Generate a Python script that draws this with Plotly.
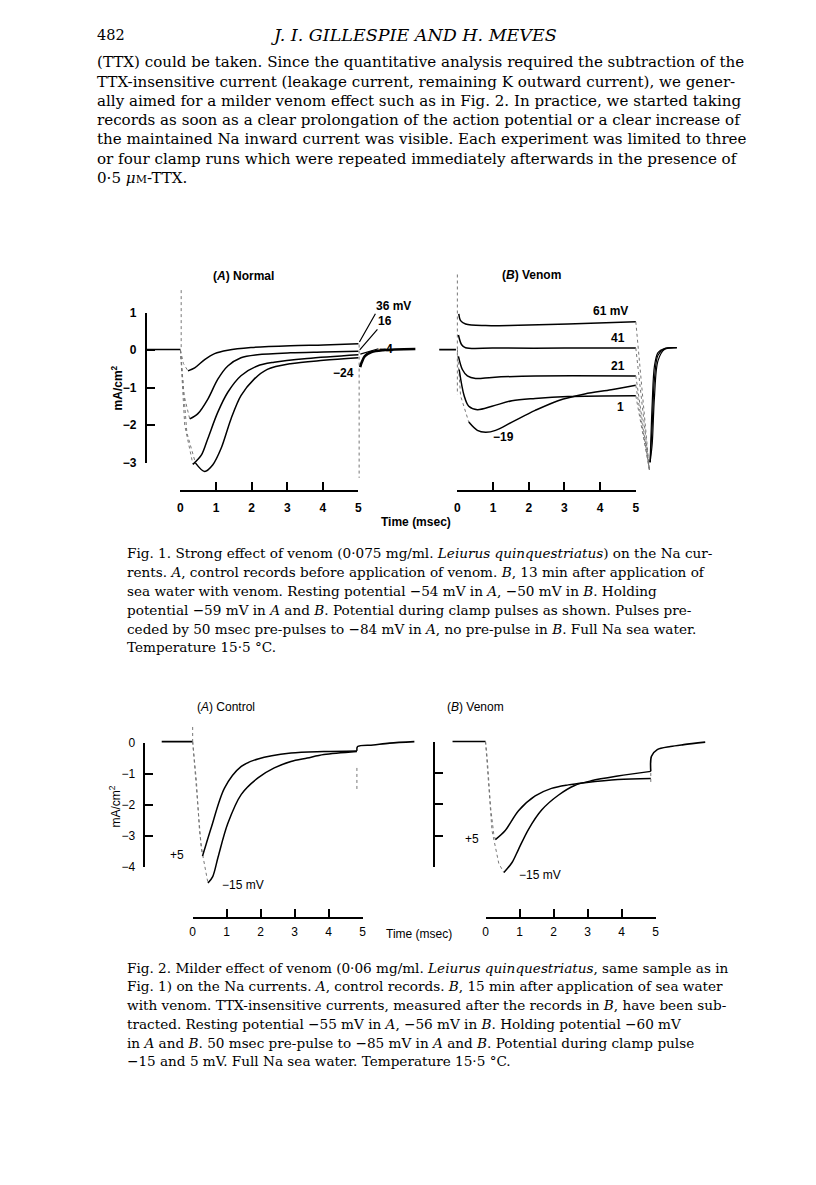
import plotly.graph_objects as go

W, H = 816, 1185
SANS = "Liberation Sans"
SERIF = "DejaVu Serif"

# ================= DATA (time in msec, current in mA/cm2) =================
# ---- Fig. 1A  Normal ----
f1a_pre_t = [-0.95, 0.0];            f1a_pre_i = [0.02, 0.02]
f1a_spike_t = [0.02, 0.02];          f1a_spike_i = [1.6, 0.0]
f1a_36_t = [0.21, 0.40, 0.68, 0.96, 1.33, 1.98, 3.09, 4.02, 5.0]
f1a_36_i = [-0.55, -0.47, -0.25, -0.09, 0.0, 0.07, 0.12, 0.14, 0.17]
f1a_16_t = [0.26, 0.49, 0.77, 1.05, 1.33, 1.70, 2.16, 3.09, 4.02, 5.0]
f1a_16_i = [-1.83, -1.69, -1.30, -0.77, -0.42, -0.20, -0.12, -0.07, -0.05, -0.03]
f1a_m4_t = [0.35, 0.59, 0.77, 1.05, 1.33, 1.70, 2.16, 2.63, 3.56, 5.0]
f1a_m4_i = [-3.04, -2.79, -2.35, -1.65, -1.12, -0.68, -0.42, -0.32, -0.22, -0.12]
f1a_m24_t = [0.42, 0.68, 0.91, 1.14, 1.42, 1.70, 2.07, 2.44, 3.09, 4.02, 5.0]
f1a_m24_i = [-3.0, -3.23, -3.05, -2.62, -1.83, -1.21, -0.77, -0.51, -0.36, -0.27, -0.2]
f1a_fall_36_t = [0.0, 0.08, 0.21];   f1a_fall_36_i = [0.0, -0.35, -0.55]
f1a_fall_16_t = [0.0, 0.10, 0.26];   f1a_fall_16_i = [0.0, -1.2, -1.83]
f1a_fall_m4_t = [0.0, 0.12, 0.35];   f1a_fall_m4_i = [0.0, -2.0, -3.04]
f1a_fall_m24_t = [0.0, 0.18, 0.42];  f1a_fall_m24_i = [0.0, -2.2, -3.0]
f1a_off_t = [5.02, 5.02];            f1a_off_i = [0.15, -3.4]
f1a_tail_t = [5.05, 5.09, 5.18, 5.37, 5.69, 6.6]
f1a_tail_i = [-0.45, -0.33, -0.16, -0.05, 0.0, 0.03]
f1a_labels = ["36 mV", "16", "−4", "−24"]

# ---- Fig. 1B  Venom ----
f1b_pre_t = [-0.69, -0.04];          f1b_pre_i = [0.0, 0.0]
f1b_spike_t = [0.0, 0.0];            f1b_spike_i = [2.0, -1.2]
f1b_61_t = [0.04, 0.09, 0.23, 0.79, 1.71, 3.1, 5.0]
f1b_61_i = [0.95, 0.77, 0.68, 0.64, 0.65, 0.68, 0.74]
f1b_41_t = [0.03, 0.12, 0.23, 1.0, 3.0, 5.0]
f1b_41_i = [0.39, 0.13, 0.05, 0.04, 0.04, 0.04]
f1b_21_t = [0.03, 0.14, 0.28, 0.51, 0.97, 2.18, 5.0]
f1b_21_i = [-0.18, -0.53, -0.70, -0.77, -0.74, -0.70, -0.70]
f1b_1_t = [0.05, 0.19, 0.32, 0.56, 0.97, 1.53, 2.18, 3.1, 5.0]
f1b_1_i = [-0.53, -1.23, -1.51, -1.60, -1.51, -1.36, -1.30, -1.25, -1.23]
f1b_m19_t = [0.32, 0.56, 0.79, 1.07, 1.53, 2.18, 2.82, 3.57, 4.31, 5.0]
f1b_m19_i = [-1.93, -2.15, -2.20, -2.15, -1.93, -1.62, -1.36, -1.18, -1.07, -0.95]
f1b_fall_m19_t = [0.0, 0.09, 0.32];  f1b_fall_m19_i = [0.0, -1.23, -1.93]
f1b_drop_t = [5.0, 5.38]
f1b_drop_end_i = [0.74, 0.04, -0.70, -1.23, -0.95]
f1b_drop_low_i = -3.2
f1b_tail_t = [5.40, 5.46, 5.52, 5.62, 5.80, 6.15]
f1b_tail_a_i = [-3.0, -1.4, -0.45, -0.08, 0.03, 0.05]
f1b_tail_b_i = [-3.0, -2.0, -0.8, -0.15, 0.02, 0.05]
f1b_tail_c_i = [-3.0, -2.5, -1.3, -0.3, 0.0, 0.05]
f1b_labels = ["61 mV", "41", "21", "1", "−19"]

# ---- Fig. 2A  Control ----
f2a_pre_t = [-0.91, 0.0];            f2a_pre_i = [0.03, 0.03]
f2a_spike_t = [0.0, 0.0];            f2a_spike_i = [0.5, 0.03]
f2a_p5_t = [0.29, 0.40, 0.55, 0.94, 1.43, 1.92, 2.89, 3.86, 4.83]
f2a_p5_i = [-3.66, -3.26, -2.73, -1.46, -0.77, -0.53, -0.34, -0.29, -0.27]
f2a_m15_t = [0.45, 0.59, 0.75, 1.03, 1.43, 1.92, 2.40, 2.89, 3.37, 3.86, 4.83]
f2a_m15_i = [-4.53, -4.32, -3.68, -2.62, -1.67, -1.14, -0.82, -0.61, -0.50, -0.39, -0.29]
f2a_fall_p5_t = [0.0, 0.11, 0.20, 0.29];   f2a_fall_p5_i = [0.03, -1.24, -2.83, -3.66]
f2a_fall_m15_t = [0.0, 0.12, 0.25, 0.45];  f2a_fall_m15_i = [0.03, -1.5, -3.36, -4.53]
f2a_post_t = [4.83, 4.85, 5.31, 5.79, 6.52]
f2a_post_i = [-0.27, -0.13, -0.08, -0.02, 0.03]
f2a_off_t = [4.83, 4.83];            f2a_off_i = [-0.82, -1.5]
f2a_labels = ["+5", "−15 mV"]

# ---- Fig. 2B  Venom ----
f2b_pre_t = [-0.97, 0.0];            f2b_pre_i = [0.0, 0.0]
f2b_p5_t = [0.29, 0.58, 0.97, 1.46, 1.94, 2.43, 2.92, 3.89, 4.86]
f2b_p5_i = [-3.12, -2.83, -2.20, -1.73, -1.49, -1.38, -1.31, -1.21, -1.18]
f2b_m15_t = [0.54, 0.78, 0.97, 1.26, 1.65, 2.14, 2.62, 3.11, 3.89, 4.86]
f2b_m15_i = [-4.17, -3.85, -3.43, -2.80, -2.18, -1.71, -1.40, -1.25, -1.10, -0.95]
f2b_fall_p5_t = [0.0, 0.05, 0.15, 0.24, 0.29];  f2b_fall_p5_i = [0.0, -0.53, -2.1, -2.93, -3.12]
f2b_fall_m15_t = [0.0, 0.19, 0.39, 0.54];       f2b_fall_m15_i = [0.0, -2.83, -3.88, -4.17]
f2b_post_t = [4.86, 4.88, 5.05, 5.44, 5.83, 6.46]
f2b_post_i = [-0.95, -0.47, -0.26, -0.16, -0.10, -0.02]
f2b_off_t = [4.86, 4.86];            f2b_off_i = [-1.0, -1.36]
f2b_labels = ["+5", "−15 mV"]

# ---- axes / scale bars ----
time_ticks = [0, 1, 2, 3, 4, 5]
f1_current_ticks = [1, 0, -1, -2, -3]
f2_current_ticks = [0, -1, -2, -3, -4]

# ---- page text ----
page_number = "482"
running_head = "<i>J. I. GILLESPIE AND H. MEVES</i>"
body_lines = [
    "(TTX) could be taken. Since the quantitative analysis required the subtraction of the",
    "TTX-insensitive current (leakage current, remaining K outward current), we gener-",
    "ally aimed for a milder venom effect such as in Fig. 2. In practice, we started taking",
    "records as soon as a clear prolongation of the action potential or a clear increase of",
    "the maintained Na inward current was visible. Each experiment was limited to three",
    "or four clamp runs which were repeated immediately afterwards in the presence of",
    "0·5 <i>μ</i><span style='font-size:11px'>M</span>-TTX.",
]
cap1_lines = [
    "Fig. 1. Strong effect of venom (0·075 mg/ml. <i>Leiurus quinquestriatus</i>) on the Na cur-",
    "rents. <i>A</i>, control records before application of venom. <i>B</i>, 13 min after application of",
    "sea water with venom. Resting potential −54 mV in <i>A</i>, −50 mV in <i>B</i>. Holding",
    "potential −59 mV in <i>A</i> and <i>B</i>. Potential during clamp pulses as shown. Pulses pre-",
    "ceded by 50 msec pre-pulses to −84 mV in <i>A</i>, no pre-pulse in <i>B</i>. Full Na sea water.",
    "Temperature 15·5 °C.",
]
cap2_lines = [
    "Fig. 2. Milder effect of venom (0·06 mg/ml. <i>Leiurus quinquestriatus</i>, same sample as in",
    "Fig. 1) on the Na currents. <i>A</i>, control records. <i>B</i>, 15 min after application of sea water",
    "with venom. TTX-insensitive currents, measured after the records in <i>B</i>, have been sub-",
    "tracted. Resting potential −55 mV in <i>A</i>, −56 mV in <i>B</i>. Holding potential −60 mV",
    "in <i>A</i> and <i>B</i>. 50 msec pre-pulse to −85 mV in <i>A</i> and <i>B</i>. Potential during clamp pulse",
    "−15 and 5 mV. Full Na sea water. Temperature 15·5 °C.",
]

# ================= LAYOUT GEOMETRY (pixels) =================
# x0/sx: pixel of t=0 and px per msec; y0/sy: pixel of I=0 and px per mA/cm2
P1A = dict(n=1, x0=179.0, sx=35.9, y0=347.3, sy=38.0, box=(100, 440, 255, 500))
P1B = dict(n=2, x0=458.3, sx=36.0, y0=346.7, sy=38.0, box=(440, 730, 255, 500))
P2A = dict(n=3, x0=191.3, sx=34.3, y0=744.3, sy=31.4, box=(100, 440, 700, 900))
P2B = dict(n=4, x0=486.7, sx=34.3, y0=743.3, sy=31.8, box=(440, 740, 700, 900))


def xn(n):
    return "x" if n == 1 else f"x{n}"


def yn(n):
    return "y" if n == 1 else f"y{n}"


def xk(n):
    return "xaxis" if n == 1 else f"xaxis{n}"


def yk(n):
    return "yaxis" if n == 1 else f"yaxis{n}"


def PX(x):
    return x / W


def PY(y):
    return 1 - y / H


fig = go.Figure()
layout = {}


def main_axes(p):
    n = p["n"]
    bx0, bx1, by0, by1 = p["box"]
    layout[xk(n)] = dict(domain=[PX(bx0), PX(bx1)],
                         range=[(bx0 - p["x0"]) / p["sx"], (bx1 - p["x0"]) / p["sx"]],
                         visible=False, anchor=yn(n), fixedrange=True)
    layout[yk(n)] = dict(domain=[PY(by1), PY(by0)],
                         range=[(p["y0"] - by1) / p["sy"], (p["y0"] - by0) / p["sy"]],
                         visible=False, anchor=xn(n), fixedrange=True)


def scale_axes(p, m, bar_y, yax_x, yticks, show_y, show_ylab, bold, xstand, ystand):
    tf = dict(family=SANS, size=12, color="black", weight="bold" if bold else "normal")
    common = dict(showline=True, linewidth=2, linecolor="black", ticks="inside",
                  ticklen=8, tickwidth=2, tickcolor="black", showgrid=False,
                  zeroline=False, tickfont=tf, fixedrange=True)
    layout[xk(m)] = dict(domain=[PX(p["x0"]), PX(p["x0"] + 5 * p["sx"])], range=[0, 5],
                         anchor="free", position=PY(bar_y), side="bottom",
                         tickmode="array", tickvals=time_ticks, ticklabelstandoff=xstand,
                         **common)
    lo, hi = min(yticks), max(yticks)
    layout[yk(m)] = dict(domain=[PY(p["y0"] - lo * p["sy"]), PY(p["y0"] - hi * p["sy"])],
                         range=[lo, hi], anchor="free", position=PX(yax_x), side="left",
                         tickmode="array", tickvals=yticks, showticklabels=show_ylab,
                         visible=show_y, ticklabelstandoff=ystand, **common)
    fig.add_trace(go.Scatter(x=[0], y=[0], mode="lines", xaxis=xn(m), yaxis=yn(m),
                             hoverinfo="skip", showlegend=False))


def line(p, t, i, width=1.5, dash=None, color="black", shape="spline"):
    n = p["n"]
    fig.add_trace(go.Scatter(x=t, y=i, mode="lines", xaxis=xn(n), yaxis=yn(n),
                             line=dict(color=color, width=width, dash=dash, shape=shape,
                                       smoothing=0.9),
                             hoverinfo="skip", showlegend=False))


DOT = dict(width=1.0, dash="dot", color="#777777", shape="linear")

for p in (P1A, P1B, P2A, P2B):
    main_axes(p)

# ---- Fig 1A traces ----
line(P1A, f1a_pre_t, f1a_pre_i, width=1.6, shape="linear")
line(P1A, f1a_spike_t, f1a_spike_i, **DOT)
for ft, fi in ((f1a_fall_36_t, f1a_fall_36_i), (f1a_fall_16_t, f1a_fall_16_i),
               (f1a_fall_m4_t, f1a_fall_m4_i), (f1a_fall_m24_t, f1a_fall_m24_i)):
    line(P1A, ft, fi, **DOT)
for tt, ii in ((f1a_36_t, f1a_36_i), (f1a_16_t, f1a_16_i),
               (f1a_m4_t, f1a_m4_i), (f1a_m24_t, f1a_m24_i)):
    line(P1A, tt, ii, width=1.5)
line(P1A, f1a_off_t, f1a_off_i, **DOT)
line(P1A, f1a_tail_t, f1a_tail_i, width=2.6)

# ---- Fig 1B traces ----
line(P1B, f1b_pre_t, f1b_pre_i, width=1.6, shape="linear")
line(P1B, f1b_spike_t, f1b_spike_i, **DOT)
line(P1B, f1b_fall_m19_t, f1b_fall_m19_i, **DOT)
for tt, ii in ((f1b_61_t, f1b_61_i), (f1b_41_t, f1b_41_i), (f1b_21_t, f1b_21_i),
               (f1b_1_t, f1b_1_i), (f1b_m19_t, f1b_m19_i)):
    line(P1B, tt, ii, width=1.5)
for e in f1b_drop_end_i:
    line(P1B, f1b_drop_t, [e, f1b_drop_low_i], **DOT)
for ti in (f1b_tail_a_i, f1b_tail_b_i, f1b_tail_c_i):
    line(P1B, f1b_tail_t, ti, width=1.2)

# ---- Fig 2A traces ----
line(P2A, f2a_pre_t, f2a_pre_i, width=1.6, shape="linear")
line(P2A, f2a_spike_t, f2a_spike_i, **DOT)
line(P2A, f2a_fall_p5_t, f2a_fall_p5_i, **DOT)
line(P2A, f2a_fall_m15_t, f2a_fall_m15_i, **DOT)
line(P2A, f2a_p5_t, f2a_p5_i, width=1.5)
line(P2A, f2a_m15_t, f2a_m15_i, width=1.5)
line(P2A, f2a_post_t, f2a_post_i, width=1.6)
line(P2A, f2a_off_t, f2a_off_i, **DOT)

# ---- Fig 2B traces ----
line(P2B, f2b_pre_t, f2b_pre_i, width=1.6, shape="linear")
line(P2B, f2b_fall_p5_t, f2b_fall_p5_i, **DOT)
line(P2B, f2b_fall_m15_t, f2b_fall_m15_i, **DOT)
line(P2B, f2b_p5_t, f2b_p5_i, width=1.5)
line(P2B, f2b_m15_t, f2b_m15_i, width=1.5)
line(P2B, f2b_post_t, f2b_post_i, width=1.6)
line(P2B, f2b_off_t, f2b_off_i, **DOT)

# ---- scale bars (axes) ----
scale_axes(P1A, 5, 490, 144, f1_current_ticks, True, True, True, 5, 6)
scale_axes(P1B, 6, 490, 440, f1_current_ticks, False, False, True, 5, 6)
scale_axes(P2A, 7, 921.7, 142.7, f2_current_ticks, True, True, False, 3, 6)
scale_axes(P2B, 8, 921.7, 435, f2_current_ticks, True, False, False, 3, 6)

# ================= ANNOTATIONS =================
ann = []


def txt(x, y, s, size=12, bold=False, family=SANS, xanchor="center", angle=0):
    ann.append(dict(x=PX(x), y=PY(y), xref="paper", yref="paper", text=s, showarrow=False,
                    xanchor=xanchor, yanchor="middle", textangle=angle, borderpad=0,
                    font=dict(family=family, size=size, color="black",
                              weight="bold" if bold else "normal")))


# Fig 1 labels
txt(243, 272, "(<i>A</i>) Normal", bold=True)
txt(533, 271, "(<i>B</i>) Venom", bold=True)
txt(115, 386, "mA/cm<sup>2</sup>", bold=True, angle=-90)
txt(417, 521, "Time (msec)", bold=True)
# leaders for 1A
for lab, tt, ii, ax, ay, ya in ((f1a_labels[0], f1a_36_t, f1a_36_i, 17, -30, "bottom"),
                                (f1a_labels[1], f1a_16_t, f1a_16_i, 19, -22, "bottom"),
                                (f1a_labels[2], f1a_m4_t, f1a_m4_i, 20, -6, "middle")):
    ann.append(dict(x=tt[-1], y=ii[-1], xref=xn(1), yref=yn(1), text=lab, showarrow=True,
                    arrowhead=0, arrowwidth=1.2, arrowcolor="black", ax=ax, ay=ay,
                    standoff=2, xanchor="left", yanchor=ya, borderpad=0,
                    font=dict(family=SANS, size=12, color="black", weight="bold")))
txt(343, 370, f1a_labels[3], bold=True)
txt(631, 308, f1b_labels[0], bold=True, xanchor="right")
txt(628, 335, f1b_labels[1], bold=True, xanchor="right")
txt(628, 363, f1b_labels[2], bold=True, xanchor="right")
txt(627, 405, f1b_labels[3], bold=True, xanchor="right")
txt(505, 435, f1b_labels[4], bold=True)

# Fig 2 labels
txt(225, 708, "(<i>A</i>) Control")
txt(477, 708, "(<i>B</i>) Venom")
txt(113, 809, "mA/cm<sup>2</sup>", angle=-90)
txt(420, 938, "Time (msec)")
txt(176, 858, f2a_labels[0])
txt(242, 889, f2a_labels[1])
txt(473, 842, f2b_labels[0])
txt(542, 878, f2b_labels[1])

# Page text
txt(94, 28, page_number, size=14.5, family=SERIF, xanchor="left")
txt(415, 28, running_head, size=17.5, family=SERIF)
for k, s in enumerate(body_lines):
    txt(94, 56 + 19.5 * k, s, size=15.1, family=SERIF, xanchor="left")
for k, s in enumerate(cap1_lines):
    txt(124, 553 + 19.0 * k, s, size=13.6, family=SERIF, xanchor="left")
for k, s in enumerate(cap2_lines):
    txt(124, 972 + 19.0 * k, s, size=13.6, family=SERIF, xanchor="left")

fig.update_layout(**layout)
fig.update_layout(width=W, height=H, autosize=False, margin=dict(l=0, r=0, t=0, b=0),
                  paper_bgcolor="white", plot_bgcolor="rgba(0,0,0,0)",
                  showlegend=False, annotations=ann)

fig.write_html("out.html", config={"displayModeBar": False},
               post_script="document.body.style.margin='0';")
